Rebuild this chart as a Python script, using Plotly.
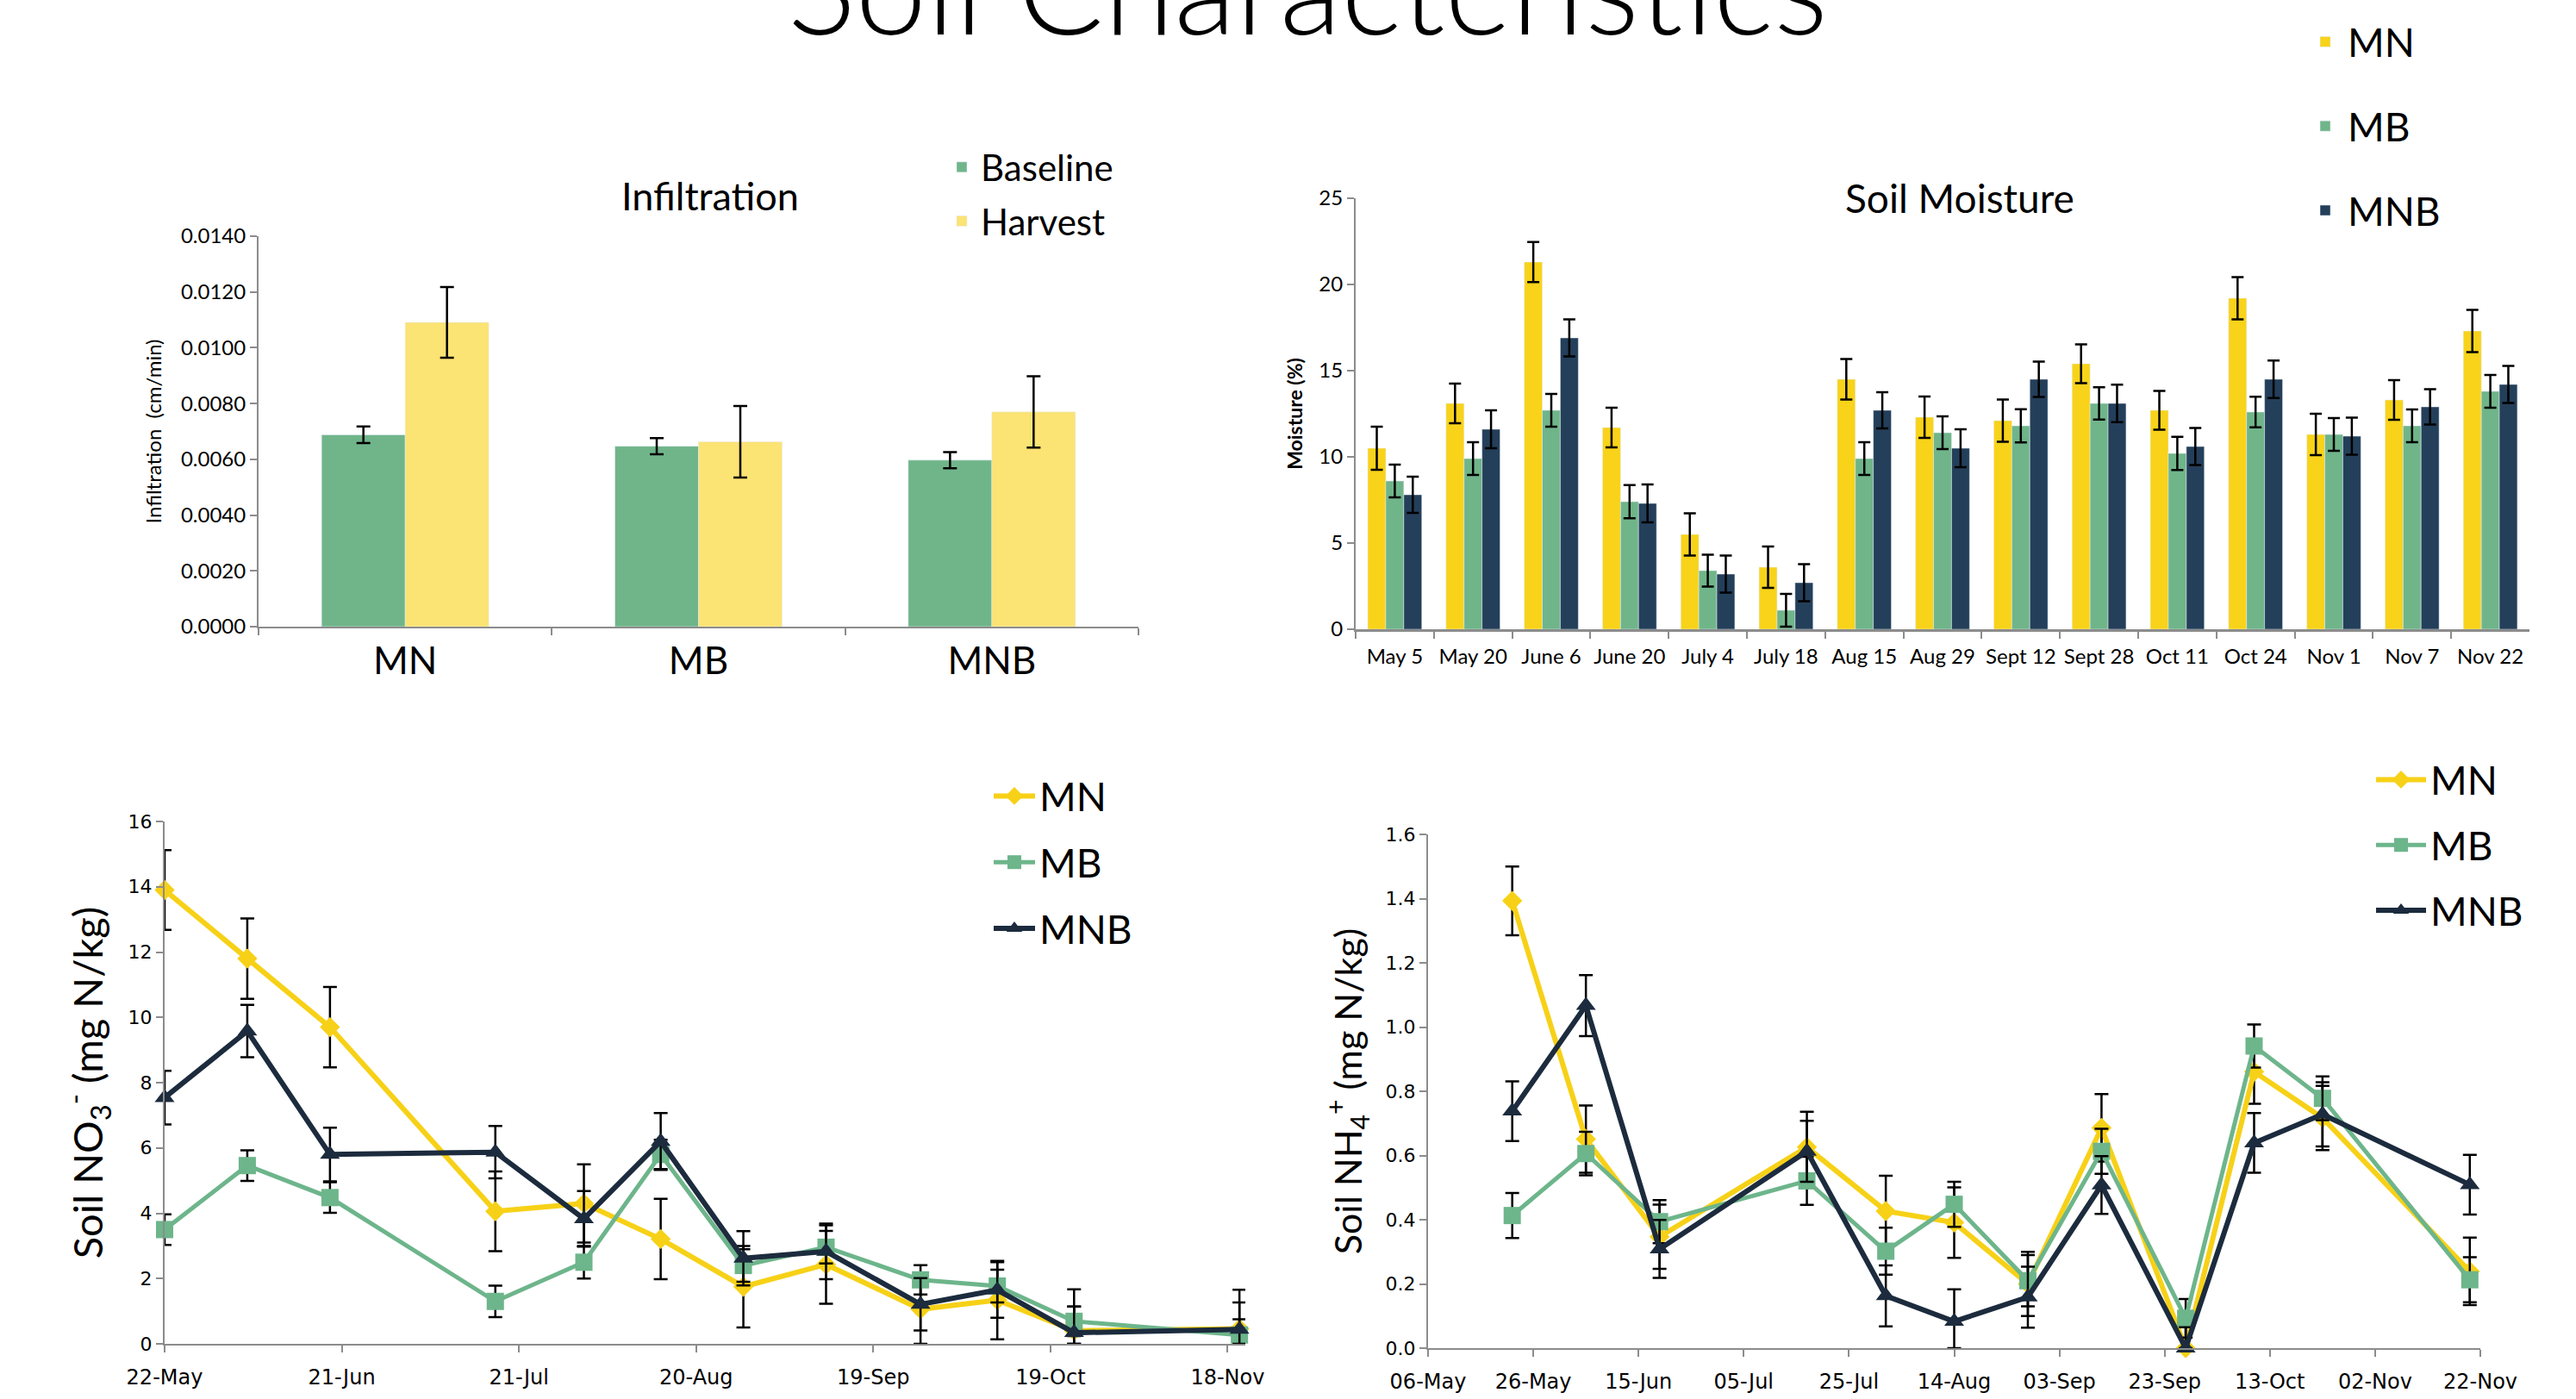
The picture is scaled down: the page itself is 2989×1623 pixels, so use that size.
import plotly.graph_objects as go

# ---------------- data ----------------
infil_categories = ["MN", "MB", "MNB"]
infil_baseline = [0.00688, 0.00647, 0.00597]
infil_baseline_err = [0.00030, 0.00029, 0.00029]
infil_harvest = [0.01091, 0.00663, 0.00770]
infil_harvest_err = [0.00127, 0.00128, 0.00128]

moist_dates = ["May 5", "May 20", "June 6", "June 20", "July 4", "July 18", "Aug 15",
               "Aug 29", "Sept 12", "Sept 28", "Oct 11", "Oct 24", "Nov 1", "Nov 7", "Nov 22"]
moist_mn = [10.5, 13.1, 21.3, 11.7, 5.5, 3.6, 14.5, 12.3, 12.1, 15.4, 12.7, 19.2, 11.3, 13.3, 17.3]
moist_mn_err = [1.25, 1.15, 1.16, 1.15, 1.22, 1.2, 1.17, 1.2, 1.22, 1.13, 1.13, 1.22, 1.2, 1.15, 1.23]
moist_mb = [8.6, 9.9, 12.7, 7.4, 3.4, 1.1, 9.9, 11.4, 11.8, 13.1, 10.2, 12.6, 11.3, 11.8, 13.8]
moist_mb_err = [0.95, 0.95, 0.95, 0.96, 0.93, 0.95, 0.95, 0.95, 0.96, 0.94, 0.96, 0.89, 0.95, 0.95, 0.95]
moist_mnb = [7.8, 11.6, 16.9, 7.3, 3.2, 2.7, 12.7, 10.5, 14.5, 13.1, 10.6, 14.5, 11.2, 12.9, 14.2]
moist_mnb_err = [1.05, 1.1, 1.07, 1.1, 1.08, 1.07, 1.05, 1.1, 1.02, 1.09, 1.08, 1.09, 1.08, 1.02, 1.07]

sample_dates = ["2014-05-22", "2014-06-05", "2014-06-19", "2014-07-17", "2014-08-01", "2014-08-14",
                "2014-08-28", "2014-09-11", "2014-09-27", "2014-10-10", "2014-10-23", "2014-11-20"]

no3_mn = [13.9, 11.8, 9.7, 4.06, 4.3, 3.21, 1.75, 2.43, 1.06, 1.34, 0.40, 0.46]
no3_mn_err = [1.22, 1.23, 1.23, 1.22, 1.2, 1.23, 1.25, 1.2, 1.06, 1.2, 1.27, 1.2]
no3_mb = [3.5, 5.46, 4.48, 1.3, 2.5, 5.8, 2.4, 2.96, 1.96, 1.77, 0.69, 0.27]
no3_mb_err = [0.47, 0.47, 0.47, 0.48, 0.5, 0.45, 0.5, 0.5, 0.45, 0.5, 0.45, 0.48]
no3_mnb = [7.54, 9.58, 5.8, 5.87, 3.83, 6.2, 2.62, 2.83, 1.21, 1.65, 0.34, 0.44]
no3_mnb_err = [0.82, 0.8, 0.82, 0.8, 0.85, 0.87, 0.83, 0.85, 0.8, 0.85, 0.8, 0.83]

nh4_mn = [1.393, 0.651, 0.347, 0.626, 0.427, 0.391, 0.20, 0.686, 0.0, 0.861, 0.717, 0.239]
nh4_mn_err = [0.107, 0.105, 0.10, 0.11, 0.11, 0.11, 0.10, 0.105, 0.065, 0.10, 0.10, 0.105]
nh4_mb = [0.413, 0.606, 0.394, 0.521, 0.302, 0.448, 0.21, 0.613, 0.093, 0.941, 0.778, 0.213]
nh4_mb_err = [0.07, 0.068, 0.067, 0.075, 0.073, 0.07, 0.08, 0.07, 0.06, 0.067, 0.068, 0.07]
nh4_mnb = [0.738, 1.067, 0.309, 0.613, 0.163, 0.083, 0.159, 0.508, 0.0, 0.639, 0.728, 0.509]
nh4_mnb_err = [0.093, 0.095, 0.09, 0.095, 0.095, 0.10, 0.095, 0.09, 0.065, 0.093, 0.10, 0.093]

# ---------------- style ----------------
W, H = 2989, 1623
C_MN_BAR = "#F8D31A"
C_HARV = "#FBE374"
C_MB = "#70B58A"
C_MNB_BAR = "#243F5A"
C_MN_LINE = "#F7D117"
C_MB_LINE = "#6DB58B"
C_MNB_LINE = "#1C2B3D"
AXC = "#8C8C8C"
F = "Lato"
FB = "DejaVu Sans"


def fx(p):
    return p / W


def fy(p):
    return 1 - p / H


def err(vals, e, thick=2.5, width=8):
    return dict(type="data", array=e, arrayminus=[min(a, v) for a, v in zip(e, vals)],
                symmetric=False, color="black", thickness=thick, width=width, visible=True)


fig = go.Figure()

# Infiltration
fig.add_trace(go.Bar(x=infil_categories, y=infil_baseline, name="Baseline", marker_color=C_MB,
                     width=0.285, offset=-0.285, error_y=err(infil_baseline, infil_baseline_err),
                     xaxis="x", yaxis="y", legend="legend2", legendgroup="i1"))
fig.add_trace(go.Bar(x=infil_categories, y=infil_harvest, name="Harvest", marker_color=C_HARV,
                     width=0.285, offset=0.0, error_y=err(infil_harvest, infil_harvest_err),
                     xaxis="x", yaxis="y", legend="legend2", legendgroup="i2"))

# Soil moisture
for nm, vals, e, col, g in [("MN", moist_mn, moist_mn_err, C_MN_BAR, "m1"),
                            ("MB", moist_mb, moist_mb_err, C_MB, "m2"),
                            ("MNB", moist_mnb, moist_mnb_err, C_MNB_BAR, "m3")]:
    fig.add_trace(go.Bar(x=moist_dates, y=vals, name=nm, marker_color=col,
                         error_y=err(vals, e, thick=2.5, width=7),
                         xaxis="x2", yaxis="y2", legend="legend", legendgroup=g))

# NO3 and NH4 lines
line_specs = [("MN", C_MN_LINE, "diamond", 18, 6),
              ("MB", C_MB_LINE, "square", 20, 5),
              ("MNB", C_MNB_LINE, "triangle-up", 20, 6)]
no3_sets = [(no3_mn, no3_mn_err), (no3_mb, no3_mb_err), (no3_mnb, no3_mnb_err)]
nh4_sets = [(nh4_mn, nh4_mn_err), (nh4_mb, nh4_mb_err), (nh4_mnb, nh4_mnb_err)]
for (nm, col, sym, ms, lw), (vals, e) in zip(line_specs, no3_sets):
    fig.add_trace(go.Scatter(x=sample_dates, y=vals, name=nm, mode="lines+markers",
                             line=dict(color=col, width=lw), marker=dict(symbol=sym, size=ms, color=col),
                             error_y=err(vals, e, thick=2.5, width=8), cliponaxis=False,
                             xaxis="x3", yaxis="y3", legend="legend3", legendgroup="n" + nm))
for (nm, col, sym, ms, lw), (vals, e) in zip(line_specs, nh4_sets):
    fig.add_trace(go.Scatter(x=sample_dates, y=vals, name=nm, mode="lines+markers",
                             line=dict(color=col, width=lw), marker=dict(symbol=sym, size=ms, color=col),
                             error_y=err(vals, e, thick=2.5, width=8), cliponaxis=False,
                             xaxis="x4", yaxis="y4", legend="legend4", legendgroup="h" + nm))

axis_common = dict(showline=True, linecolor=AXC, linewidth=2, ticks="outside", ticklen=8,
                   tickcolor=AXC, tickwidth=2, showgrid=False, zeroline=False, automargin=False)

DAY = 86400000

fig.update_layout(
    width=W, height=H, margin=dict(l=0, r=0, t=0, b=0, autoexpand=False),
    paper_bgcolor="white", plot_bgcolor="white",
    barmode="group", bargap=0.31, bargroupgap=0,
    font=dict(family=F, color="black"),
    xaxis=dict(domain=[fx(300), fx(1321)], anchor="y", type="category", tickson="boundaries",
               tickfont=dict(family=F, size=44), **axis_common),
    yaxis=dict(domain=[fy(727), fy(274)], anchor="x", range=[0, 0.014], dtick=0.002,
               tickformat=".4f", tickfont=dict(family=F, size=24),
               title=dict(text="Infiltration  (cm/min)", font=dict(family=F, size=24), standoff=16),
               **axis_common),
    xaxis2=dict(domain=[fx(1573), fx(2935)], anchor="y2", type="category", tickson="boundaries",
                tickangle=0, ticklabelstandoff=8, tickfont=dict(family=F, size=24),
                **{**axis_common, "linewidth": 3}),
    yaxis2=dict(domain=[fy(730), fy(230)], anchor="x2", range=[0, 25], dtick=5,
                tickfont=dict(family=F, size=24),
                title=dict(text="<b>Moisture (%)</b>", font=dict(family=F, size=23), standoff=12),
                **axis_common),
    xaxis3=dict(domain=[fx(191), fx(1445)], anchor="y3", type="date",
                range=["2014-05-22", "2014-11-21"], tick0="2014-05-22", dtick=30 * DAY,
                tickformat="%d-%b", ticklabelstandoff=8, tickfont=dict(family=FB, size=24),
                **axis_common),
    yaxis3=dict(domain=[fy(1559), fy(953)], anchor="x3", range=[0, 16], dtick=2,
                tickfont=dict(family=FB, size=22),
                title=dict(text="Soil NO<sub>3</sub><sup>-</sup> (mg N/kg)", font=dict(family=F, size=47),
                           standoff=14),
                **axis_common),
    xaxis4=dict(domain=[fx(1657), fx(2878)], anchor="y4", type="date",
                range=["2014-05-06", "2014-11-22"], tick0="2014-05-06", dtick=20 * DAY,
                tickformat="%d-%b", ticklabelstandoff=8, tickfont=dict(family=FB, size=24),
                **axis_common),
    yaxis4=dict(domain=[fy(1564), fy(968)], anchor="x4", range=[0, 1.6], dtick=0.2,
                tickformat=".1f", tickfont=dict(family=FB, size=22),
                title=dict(text="Soil NH<sub>4</sub><sup>+</sup> (mg N/kg)", font=dict(family=F, size=43),
                           standoff=14),
                **axis_common),
    legend=dict(x=fx(2672), y=fy(12), xanchor="left", yanchor="top", font=dict(family=F, size=46),
                tracegroupgap=35, itemwidth=42, bgcolor="rgba(0,0,0,0)"),
    legend2=dict(x=fx(1094), y=fy(160), xanchor="left", yanchor="top", font=dict(family=F, size=42),
                 tracegroupgap=5, itemwidth=34, bgcolor="rgba(0,0,0,0)"),
    legend3=dict(x=fx(1148), y=fy(887), xanchor="left", yanchor="top", font=dict(family=F, size=46),
                 tracegroupgap=14, itemwidth=48, bgcolor="rgba(0,0,0,0)"),
    legend4=dict(x=fx(2752), y=fy(868), xanchor="left", yanchor="top", font=dict(family=F, size=46),
                 tracegroupgap=13, itemwidth=58, bgcolor="rgba(0,0,0,0)"),
    annotations=[
        dict(text="Soil Characteristics", x=fx(1517), y=fy(74), xref="paper", yref="paper",
             xanchor="center", yanchor="bottom", showarrow=False,
             font=dict(family=F, size=148, weight=300)),
        dict(text="Infiltration", x=fx(824), y=fy(227), xref="paper", yref="paper",
             xanchor="center", yanchor="middle", showarrow=False, font=dict(family=F, size=45)),
        dict(text="Soil Moisture", x=fx(2274), y=fy(230), xref="paper", yref="paper",
             xanchor="center", yanchor="middle", showarrow=False, font=dict(family=F, size=46)),
    ],
)

fig.write_html("out.html", config={"displayModeBar": False},
               post_script="document.body.style.margin='0';")
